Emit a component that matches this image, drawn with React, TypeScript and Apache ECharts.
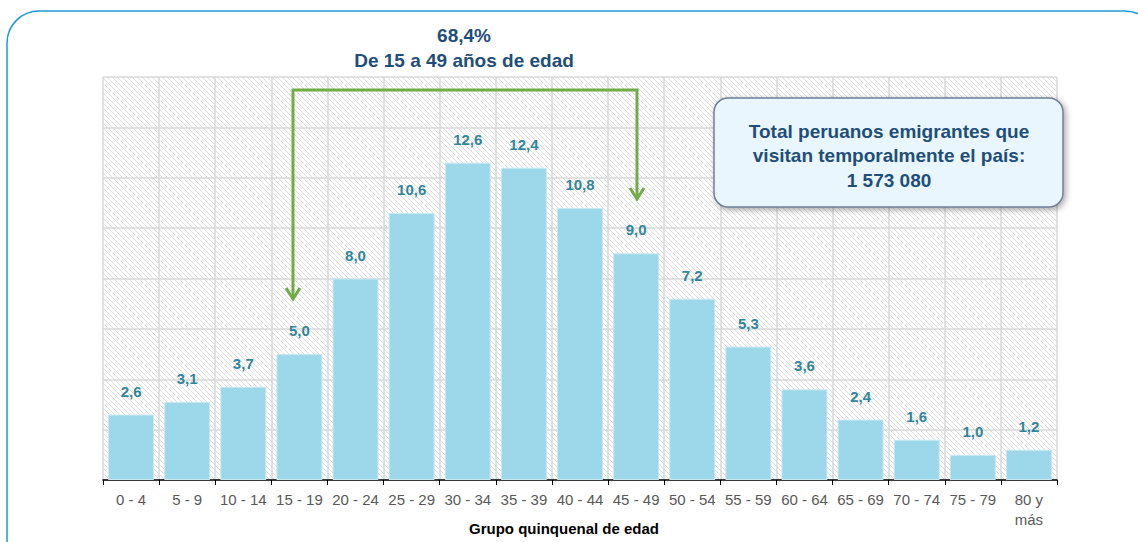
import React, { useEffect, useRef } from "react";
import * as echarts from "echarts";

const categories = ["0 - 4", "5 - 9", "10 - 14", "15 - 19", "20 - 24", "25 - 29", "30 - 34", "35 - 39", "40 - 44", "45 - 49", "50 - 54", "55 - 59", "60 - 64", "65 - 69", "70 - 74", "75 - 79", "80 y\nmás"];
const values = [2.6, 3.1, 3.7, 5.0, 8.0, 10.6, 12.6, 12.4, 10.8, 9.0, 7.2, 5.3, 3.6, 2.4, 1.6, 1.0, 1.2];
const titleLines = ["68,4%", "De 15 a 49 años de edad"];
const boxLines = ["Total peruanos emigrantes que", "visitan temporalmente el país:", "1 573 080"];
const axisTitle = "Grupo quinquenal de edad";

function makeHatch(): string {
  const s = 5;
  const c = document.createElement("canvas");
  c.width = s;
  c.height = s;
  const ctx = c.getContext("2d")!;
  ctx.fillStyle = "#ffffff";
  ctx.fillRect(0, 0, s, s);
  ctx.strokeStyle = "#dedede";
  ctx.lineWidth = 1;
  ctx.beginPath();
  ctx.moveTo(0, 0);
  ctx.lineTo(s, s);
  ctx.moveTo(-s / 2, s / 2);
  ctx.lineTo(s / 2, s * 1.5);
  ctx.moveTo(s / 2, -s / 2);
  ctx.lineTo(s * 1.5, s / 2);
  ctx.stroke();
  return c.toDataURL();
}

export default function App() {
  const ref = useRef<HTMLDivElement>(null);
  useEffect(() => {
    if (!ref.current) return;
    const chart = echarts.init(ref.current, null, { renderer: "svg" });
    const hatch = makeHatch();
    const green = "#70AD47";
    const font = "'Liberation Sans', Arial, sans-serif";
    chart.setOption({
      animation: false,
      backgroundColor: "#ffffff",
      grid: {
        left: 103,
        right: 81,
        top: 77,
        bottom: 62,
        show: true,
        borderWidth: 0,
        backgroundColor: { image: hatch, repeat: "repeat" },
      },
      xAxis: {
        type: "category",
        data: categories,
        axisLine: { show: true, lineStyle: { color: "#000000", width: 1.5 } },
        axisTick: { show: true, interval: 0, length: 5, lineStyle: { color: "#000000" } },
        axisLabel: { interval: 0, hideOverlap: false, color: "#595959", fontSize: 15, fontFamily: font, margin: 9, lineHeight: 20 },
        splitLine: { show: true, interval: 0, lineStyle: { color: "#d9d9d9", width: 1.5 } },
      },
      yAxis: {
        type: "value",
        min: 0,
        max: 16,
        interval: 2,
        axisLine: { show: false },
        axisTick: { show: false },
        axisLabel: { show: false },
        splitLine: { show: true, lineStyle: { color: "#d9d9d9", width: 1.5 } },
      },
      series: [
        {
          type: "bar",
          data: values,
          barCategoryGap: "18%",
          itemStyle: { color: "#9DD8EA", borderColor: "#c9e9f3", borderWidth: 1 },
          label: {
            show: true,
            position: "top",
            distance: 16,
            formatter: (p: any) => p.value.toFixed(1).replace(".", ","),
            color: "#31859C",
            fontSize: 15,
            fontWeight: "bold",
            fontFamily: font,
          },
        },
      ],
      graphic: [
        {
          type: "rect",
          z: 100,
          shape: { x: 7, y: 11, width: 1150, height: 560, r: 32 },
          style: { fill: "none", stroke: "#1E9AD8", lineWidth: 1.5 },
        },
        {
          type: "text",
          z: 100,
          x: 464,
          y: 35,
          style: { text: titleLines[0], fill: "#1F4E79", font: `bold 19px ${font}`, align: "center", verticalAlign: "middle" },
        },
        {
          type: "text",
          z: 100,
          x: 464,
          y: 60,
          style: { text: titleLines[1], fill: "#1F4E79", font: `bold 19px ${font}`, align: "center", verticalAlign: "middle" },
        },
        {
          type: "text",
          z: 100,
          x: 564,
          y: 528,
          style: { text: axisTitle, fill: "#000000", font: `bold 15px ${font}`, align: "center", verticalAlign: "middle" },
        },
        {
          type: "polyline",
          z: 100,
          shape: { points: [[293, 299], [293, 90], [637, 90], [637, 199]] },
          style: { fill: "none", stroke: green, lineWidth: 3 },
        },
        {
          type: "polyline",
          z: 100,
          shape: { points: [[286, 288], [293, 299], [300, 288]] },
          style: { fill: "none", stroke: green, lineWidth: 3 },
        },
        {
          type: "polyline",
          z: 100,
          shape: { points: [[630, 188], [637, 199], [644, 188]] },
          style: { fill: "none", stroke: green, lineWidth: 3 },
        },
        {
          type: "rect",
          z: 100,
          shape: { x: 714, y: 98, width: 349, height: 109, r: 14 },
          style: {
            fill: "#EAF6FD",
            stroke: "#6f7f96",
            lineWidth: 1.5,
            shadowBlur: 6,
            shadowOffsetX: 2,
            shadowOffsetY: 2,
            shadowColor: "rgba(0,0,0,0.35)",
          },
        },
        ...boxLines.map((t, i) => ({
          type: "text",
          z: 101,
          x: 889,
          y: 131 + i * 24.5,
          style: { text: t, fill: "#1F4E79", font: `bold 19px ${font}`, align: "center", verticalAlign: "middle" },
        })),
      ],
    });
    return () => chart.dispose();
  }, []);
  return <div ref={ref} style={{ position: "absolute", left: 0, top: 0, width: 1138, height: 542 }} />;
}
